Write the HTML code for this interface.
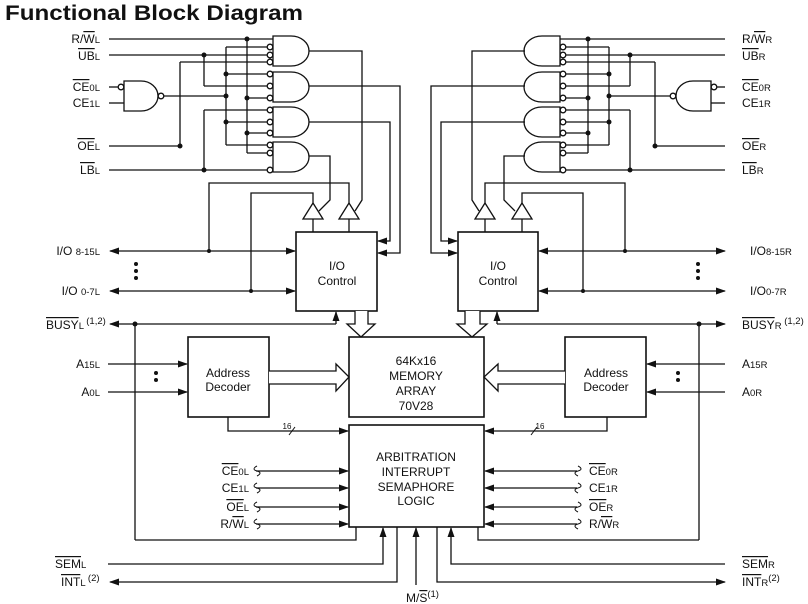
<!DOCTYPE html>
<html><head><meta charset="utf-8">
<style>
html,body{margin:0;padding:0;background:#fff;}
svg{display:block;}
text{font-family:"Liberation Sans",Arial,sans-serif;font-size:12px;fill:#111;}
.s{font-size:9.5px;}
.o{text-decoration:overline;}
.t{font-family:"Liberation Sans",Arial,sans-serif;font-weight:bold;font-size:21px;}
</style></head><body>
<svg width="808" height="604" viewBox="0 0 808 604" xmlns="http://www.w3.org/2000/svg">
<defs>
<marker id="a" markerWidth="10" markerHeight="8" refX="9" refY="4" orient="auto" markerUnits="userSpaceOnUse"><path d="M0,0.5 L10,4 L0,7.5 Z" fill="#111"/></marker>
<marker id="b" markerWidth="10" markerHeight="8" refX="1" refY="4" orient="auto" markerUnits="userSpaceOnUse"><path d="M10,0.5 L0,4 L10,7.5 Z" fill="#111"/></marker>
</defs>
<text x="5" y="20" class="t" textLength="298" lengthAdjust="spacingAndGlyphs">Functional Block Diagram</text>

<g stroke="#111" stroke-width="1.3" fill="none">
<!-- LEFT signal lines -->
<line x1="109" y1="39" x2="273" y2="39"/>
<line x1="109" y1="55" x2="267" y2="55"/>
<line x1="109" y1="146" x2="180" y2="146"/>
<line x1="109" y1="170" x2="267" y2="170"/>
<line x1="109" y1="87" x2="118" y2="87"/>
<line x1="109" y1="103" x2="124" y2="103"/>
<!-- NAND L -->
<path d="M124,81 H141 A17,15 0 0 1 141,111 H124 Z"/>
<circle cx="121" cy="87" r="2.8"/>
<circle cx="161" cy="96" r="2.8"/>
<line x1="164" y1="96" x2="226" y2="96"/>
<!-- gates L -->
<path d="M273,36 H291 A18,15 0 0 1 291,66 H273 Z"/>
<path d="M273,72 H291 A18,15 0 0 1 291,102 H273 Z"/>
<path d="M273,107 H291 A18,15 0 0 1 291,137 H273 Z"/>
<path d="M273,142 H291 A18,15 0 0 1 291,172 H273 Z"/>
<!-- buses L -->
<line x1="247" y1="39" x2="247" y2="153"/>
<line x1="247" y1="98" x2="267" y2="98"/>
<line x1="247" y1="133" x2="267" y2="133"/>
<line x1="247" y1="153" x2="267" y2="153"/>
<line x1="226" y1="47" x2="226" y2="145"/>
<line x1="226" y1="47" x2="267" y2="47"/>
<line x1="226" y1="74" x2="267" y2="74"/>
<line x1="226" y1="122" x2="267" y2="122"/>
<line x1="226" y1="145" x2="267" y2="145"/>
<line x1="204" y1="55" x2="204" y2="86"/>
<line x1="204" y1="86" x2="267" y2="86"/>
<line x1="204" y1="110" x2="204" y2="170"/>
<line x1="204" y1="110" x2="267" y2="110"/>
<line x1="180" y1="62" x2="180" y2="146"/>
<line x1="180" y1="62" x2="267" y2="62"/>
<!-- bubbles L -->
<circle cx="270" cy="47" r="2.8"/><circle cx="270" cy="55" r="2.8"/><circle cx="270" cy="62" r="2.8"/>
<circle cx="270" cy="74" r="2.8"/><circle cx="270" cy="86" r="2.8"/><circle cx="270" cy="98" r="2.8"/>
<circle cx="270" cy="110" r="2.8"/><circle cx="270" cy="122" r="2.8"/><circle cx="270" cy="133" r="2.8"/>
<circle cx="270" cy="145" r="2.8"/><circle cx="270" cy="153" r="2.8"/><circle cx="270" cy="170" r="2.8"/>
<!-- gate outputs L -->
<polyline points="309,51 362,51 362,200 355,211"/>
<polyline points="309,86 400,86 400,253 378,253" marker-end="url(#a)"/>
<polyline points="309,122 390,122 390,241 378,241" marker-end="url(#a)"/>
<polyline points="309,156 330,156 330,200 319,211"/>
<!-- buffers L -->
<path d="M313,203 L323,219 L303,219 Z"/>
<path d="M349,203 L359,219 L339,219 Z"/>
<line x1="313" y1="219" x2="313" y2="232"/>
<line x1="349" y1="219" x2="349" y2="232"/>
<polyline points="209,251 209,183 349,183 349,203"/>
<polyline points="251,291 251,193 313,193 313,203"/>
<!-- IO control L -->
<rect x="296" y="232" width="81" height="79" stroke-width="1.6"/>
<line x1="110" y1="251" x2="295" y2="251" marker-start="url(#b)" marker-end="url(#a)"/>
<line x1="110" y1="291" x2="295" y2="291" marker-start="url(#b)" marker-end="url(#a)"/>
<line x1="110" y1="324" x2="336" y2="324" marker-start="url(#b)"/>
<line x1="336" y1="324" x2="336" y2="312" marker-end="url(#a)"/>
<line x1="135" y1="324" x2="135" y2="540"/>
<polyline points="135,540 356,540 356,527"/>
<path d="M355,311 V324 H347 L361,337 L375,324 H368 V311" fill="#fff"/>
<!-- Address decoder L -->
<rect x="188" y="337" width="81" height="80" stroke-width="1.6"/>
<line x1="108" y1="364" x2="187" y2="364" marker-end="url(#a)"/>
<line x1="108" y1="392" x2="187" y2="392" marker-end="url(#a)"/>
<path d="M269,371 H336 V364 L349,377 L336,391 V384 H269" fill="#fff"/>
<polyline points="228,417 228,431 348,431" marker-end="url(#a)"/>
<line x1="289" y1="435" x2="295" y2="427" stroke-width="1"/>
<!-- memory / arbitration -->
<rect x="349" y="337" width="135" height="80" stroke-width="1.6"/>
<rect x="349" y="425" width="135" height="102" stroke-width="1.6"/>
<line x1="256" y1="471" x2="348" y2="471" marker-end="url(#a)"/>
<line x1="256" y1="488" x2="348" y2="488" marker-end="url(#a)"/>
<line x1="256" y1="507" x2="348" y2="507" marker-end="url(#a)"/>
<line x1="256" y1="524" x2="348" y2="524" marker-end="url(#a)"/>
<line x1="577" y1="471" x2="485" y2="471" marker-end="url(#a)"/>
<line x1="577" y1="488" x2="485" y2="488" marker-end="url(#a)"/>
<line x1="577" y1="507" x2="485" y2="507" marker-end="url(#a)"/>
<line x1="577" y1="524" x2="485" y2="524" marker-end="url(#a)"/>
<g stroke-width="1">
<path d="M257,466 c-4,2 -4,4 0,5 c4,1 4,3 0,5"/>
<path d="M257,483 c-4,2 -4,4 0,5 c4,1 4,3 0,5"/>
<path d="M257,502 c-4,2 -4,4 0,5 c4,1 4,3 0,5"/>
<path d="M257,519 c-4,2 -4,4 0,5 c4,1 4,3 0,5"/>
<path d="M578,466 c4,2 4,4 0,5 c-4,1 -4,3 0,5"/>
<path d="M578,483 c4,2 4,4 0,5 c-4,1 -4,3 0,5"/>
<path d="M578,502 c4,2 4,4 0,5 c-4,1 -4,3 0,5"/>
<path d="M578,519 c4,2 4,4 0,5 c-4,1 -4,3 0,5"/>
</g>
<polyline points="108,564 383,564 383,528" marker-end="url(#a)"/>
<polyline points="397,527 397,582 110,582" marker-end="url(#a)"/>
<line x1="416" y1="585" x2="416" y2="528" marker-end="url(#a)"/>
<polyline points="437,527 437,582 725,582" marker-end="url(#a)"/>
<polyline points="725,564 451,564 451,528" marker-end="url(#a)"/>

<!-- RIGHT signal lines -->
<line x1="725" y1="39" x2="560" y2="39"/>
<line x1="725" y1="55" x2="566" y2="55"/>
<line x1="725" y1="146" x2="655" y2="146"/>
<line x1="725" y1="170" x2="566" y2="170"/>
<line x1="725" y1="87" x2="717" y2="87"/>
<line x1="725" y1="103" x2="711" y2="103"/>
<path d="M711,81 H693 A17,15 0 0 0 693,111 H711 Z"/>
<circle cx="714" cy="87" r="2.8"/>
<circle cx="673" cy="96" r="2.8"/>
<line x1="670" y1="96" x2="609" y2="96"/>
<path d="M560,36 H542 A18,15 0 0 0 542,66 H560 Z"/>
<path d="M560,72 H542 A18,15 0 0 0 542,102 H560 Z"/>
<path d="M560,107 H542 A18,15 0 0 0 542,137 H560 Z"/>
<path d="M560,142 H542 A18,15 0 0 0 542,172 H560 Z"/>
<line x1="588" y1="39" x2="588" y2="153"/>
<line x1="588" y1="98" x2="566" y2="98"/>
<line x1="588" y1="133" x2="566" y2="133"/>
<line x1="588" y1="153" x2="566" y2="153"/>
<line x1="609" y1="47" x2="609" y2="145"/>
<line x1="609" y1="47" x2="566" y2="47"/>
<line x1="609" y1="74" x2="566" y2="74"/>
<line x1="609" y1="122" x2="566" y2="122"/>
<line x1="609" y1="145" x2="566" y2="145"/>
<line x1="630" y1="55" x2="630" y2="86"/>
<line x1="630" y1="86" x2="566" y2="86"/>
<line x1="630" y1="110" x2="630" y2="170"/>
<line x1="630" y1="110" x2="566" y2="110"/>
<line x1="655" y1="62" x2="655" y2="146"/>
<line x1="655" y1="62" x2="566" y2="62"/>
<circle cx="563" cy="47" r="2.8"/><circle cx="563" cy="55" r="2.8"/><circle cx="563" cy="62" r="2.8"/>
<circle cx="563" cy="74" r="2.8"/><circle cx="563" cy="86" r="2.8"/><circle cx="563" cy="98" r="2.8"/>
<circle cx="563" cy="110" r="2.8"/><circle cx="563" cy="122" r="2.8"/><circle cx="563" cy="133" r="2.8"/>
<circle cx="563" cy="145" r="2.8"/><circle cx="563" cy="153" r="2.8"/><circle cx="563" cy="170" r="2.8"/>
<polyline points="525,51 472,51 472,200 479,211"/>
<polyline points="525,86 431,86 431,253 457,253" marker-end="url(#a)"/>
<polyline points="525,122 441,122 441,241 457,241" marker-end="url(#a)"/>
<polyline points="525,156 504,156 504,200 515,211"/>
<path d="M485,203 L495,219 L475,219 Z"/>
<path d="M522,203 L532,219 L512,219 Z"/>
<line x1="485" y1="219" x2="485" y2="232"/>
<line x1="522" y1="219" x2="522" y2="232"/>
<polyline points="625,251 625,183 485,183 485,203"/>
<polyline points="583,291 583,193 522,193 522,203"/>
<rect x="458" y="232" width="80" height="79" stroke-width="1.6"/>
<line x1="539" y1="251" x2="725" y2="251" marker-start="url(#b)" marker-end="url(#a)"/>
<line x1="539" y1="291" x2="725" y2="291" marker-start="url(#b)" marker-end="url(#a)"/>
<line x1="497" y1="324" x2="725" y2="324" marker-end="url(#a)"/>
<line x1="497" y1="324" x2="497" y2="312" marker-end="url(#a)"/>
<line x1="699" y1="324" x2="699" y2="540"/>
<polyline points="699,540 478,540 478,527"/>
<path d="M465,311 V324 H457 L472,337 L487,324 H480 V311" fill="#fff"/>
<rect x="565" y="337" width="81" height="80" stroke-width="1.6"/>
<line x1="725" y1="364" x2="647" y2="364" marker-end="url(#a)"/>
<line x1="725" y1="392" x2="647" y2="392" marker-end="url(#a)"/>
<path d="M565,371 H498 V364 L484,377 L498,391 V384 H565" fill="#fff"/>
<polyline points="607,417 607,431 485,431" marker-end="url(#a)"/>
<line x1="531" y1="435" x2="537" y2="427" stroke-width="1"/>
</g>

<g fill="#111">
<circle cx="247" cy="39" r="2.5"/><circle cx="204" cy="55" r="2.5"/><circle cx="226" cy="74" r="2.5"/>
<circle cx="226" cy="96" r="2.5"/><circle cx="247" cy="98" r="2.5"/><circle cx="226" cy="122" r="2.5"/>
<circle cx="247" cy="133" r="2.5"/><circle cx="180" cy="146" r="2.5"/><circle cx="204" cy="170" r="2.5"/>
<circle cx="588" cy="39" r="2.5"/><circle cx="630" cy="55" r="2.5"/><circle cx="609" cy="74" r="2.5"/>
<circle cx="609" cy="96" r="2.5"/><circle cx="588" cy="98" r="2.5"/><circle cx="609" cy="122" r="2.5"/>
<circle cx="588" cy="133" r="2.5"/><circle cx="655" cy="146" r="2.5"/><circle cx="630" cy="170" r="2.5"/>
<circle cx="209" cy="251" r="2"/><circle cx="251" cy="291" r="2"/><circle cx="135" cy="324" r="2.5"/>
<circle cx="625" cy="251" r="2"/><circle cx="583" cy="291" r="2"/><circle cx="699" cy="324" r="2.5"/>
<circle cx="136" cy="264" r="2"/><circle cx="136" cy="271" r="2"/><circle cx="136" cy="278" r="2"/>
<circle cx="698" cy="264" r="2"/><circle cx="698" cy="271" r="2"/><circle cx="698" cy="278" r="2"/>
<circle cx="156" cy="373" r="2"/><circle cx="156" cy="380" r="2"/>
<circle cx="678" cy="373" r="2"/><circle cx="678" cy="380" r="2"/>
</g>

<g text-anchor="end">
<text x="100" y="43">R/<tspan class="o">W</tspan><tspan class="s">L</tspan></text>
<text x="100" y="60"><tspan class="o">UB</tspan><tspan class="s">L</tspan></text>
<text x="100" y="91"><tspan class="o">CE</tspan><tspan class="s">0L</tspan></text>
<text x="100" y="107">CE<tspan class="s">1L</tspan></text>
<text x="100" y="150"><tspan class="o">OE</tspan><tspan class="s">L</tspan></text>
<text x="100" y="174"><tspan class="o">LB</tspan><tspan class="s">L</tspan></text>
<text x="100" y="255">I/O <tspan class="s">8-15L</tspan></text>
<text x="100" y="295">I/O <tspan class="s">0-7L</tspan></text>
<text x="100" y="368">A<tspan class="s">15L</tspan></text>
<text x="100" y="396">A<tspan class="s">0L</tspan></text>
<text x="249" y="475"><tspan class="o">CE</tspan><tspan class="s">0L</tspan></text>
<text x="249" y="492">CE<tspan class="s">1L</tspan></text>
<text x="249" y="511"><tspan class="o">OE</tspan><tspan class="s">L</tspan></text>
<text x="249" y="528">R/<tspan class="o">W</tspan><tspan class="s">L</tspan></text>
</g>
<text x="46" y="329"><tspan class="o">BUSY</tspan><tspan class="s">L</tspan><tspan class="s" dy="-5"> (1,2)</tspan></text>
<text x="55" y="568"><tspan class="o">SEM</tspan><tspan class="s">L</tspan></text>
<text x="61" y="586"><tspan class="o">INT</tspan><tspan class="s">L</tspan><tspan class="s" dy="-5"> (2)</tspan></text>
<text x="406" y="602">M/<tspan class="o">S</tspan><tspan class="s" dy="-5">(1)</tspan></text>
<text x="742" y="43">R/<tspan class="o">W</tspan><tspan class="s">R</tspan></text>
<text x="742" y="60"><tspan class="o">UB</tspan><tspan class="s">R</tspan></text>
<text x="742" y="91"><tspan class="o">CE</tspan><tspan class="s">0R</tspan></text>
<text x="742" y="107">CE<tspan class="s">1R</tspan></text>
<text x="742" y="150"><tspan class="o">OE</tspan><tspan class="s">R</tspan></text>
<text x="742" y="174"><tspan class="o">LB</tspan><tspan class="s">R</tspan></text>
<text x="750" y="255">I/O<tspan class="s">8-15R</tspan></text>
<text x="750" y="295">I/O<tspan class="s">0-7R</tspan></text>
<text x="742" y="329"><tspan class="o">BUSY</tspan><tspan class="s">R</tspan><tspan class="s" dy="-5"> (1,2)</tspan></text>
<text x="742" y="368">A<tspan class="s">15R</tspan></text>
<text x="742" y="396">A<tspan class="s">0R</tspan></text>
<text x="742" y="568"><tspan class="o">SEM</tspan><tspan class="s">R</tspan></text>
<text x="742" y="586"><tspan class="o">INT</tspan><tspan class="s">R</tspan><tspan class="s" dy="-5">(2)</tspan></text>
<text x="589" y="475"><tspan class="o">CE</tspan><tspan class="s">0R</tspan></text>
<text x="589" y="492">CE<tspan class="s">1R</tspan></text>
<text x="589" y="511"><tspan class="o">OE</tspan><tspan class="s">R</tspan></text>
<text x="589" y="528">R/<tspan class="o">W</tspan><tspan class="s">R</tspan></text>
<g text-anchor="middle">
<text x="337" y="270">I/O</text><text x="337" y="285">Control</text>
<text x="498" y="270">I/O</text><text x="498" y="285">Control</text>
<text x="228" y="377">Address</text><text x="228" y="391">Decoder</text>
<text x="606" y="377">Address</text><text x="606" y="391">Decoder</text>
<text x="416" y="365">64Kx16</text><text x="416" y="380">MEMORY</text>
<text x="416" y="395">ARRAY</text><text x="416" y="410">70V28</text>
<text x="416" y="461">ARBITRATION</text><text x="416" y="476">INTERRUPT</text>
<text x="416" y="491">SEMAPHORE</text><text x="416" y="505">LOGIC</text>
<text x="287" y="429" style="font-size:8px">16</text>
<text x="540" y="429" style="font-size:8px">16</text>
</g>
</svg>
</body></html>
